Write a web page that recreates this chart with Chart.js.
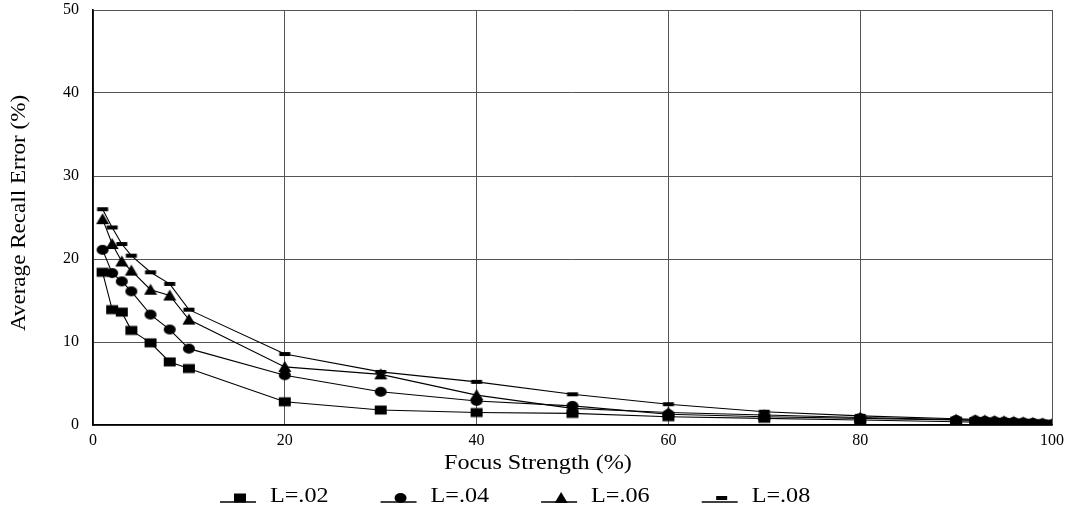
<!DOCTYPE html>
<html>
<head>
<meta charset="utf-8">
<script src="https://cdn.jsdelivr.net/npm/chart.js@4.4.0/dist/chart.umd.min.js"></script>
<style>
  html, body { margin: 0; padding: 0; background: #fff; }
  #wrap { width: 1074px; height: 512px; }
</style>
</head>
<body>
<div id="wrap"><canvas id="recallChart"></canvas></div>
<script>
// ========== DATA ==========
const focusStrength = [1, 2, 3, 4, 6, 8, 10, 20, 30, 40, 50, 60, 70, 80, 90, 92, 93, 94, 95, 96, 97, 98, 99, 100];
const seriesLabels = ["L=.02", "L=.04", "L=.06", "L=.08"];
const errL02 = [18.4, 13.9, 13.6, 11.4, 9.9, 7.6, 6.8, 2.8, 1.8, 1.5, 1.4, 1.0, 0.8, 0.6, 0.4, 0.35, 0.3, 0.28, 0.25, 0.2, 0.18, 0.15, 0.1, 0.05];
const errL04 = [21.1, 18.3, 17.3, 16.1, 13.3, 11.5, 9.2, 6.0, 4.0, 2.9, 2.3, 1.3, 1.0, 0.8, 0.6, 0.55, 0.5, 0.45, 0.4, 0.35, 0.3, 0.25, 0.18, 0.08];
const errL06 = [24.8, 21.8, 19.7, 18.6, 16.3, 15.6, 12.7, 7.0, 6.1, 3.6, 2.0, 1.5, 1.2, 0.9, 0.65, 0.6, 0.55, 0.5, 0.45, 0.4, 0.33, 0.27, 0.2, 0.1];
const errL08 = [26.0, 23.8, 21.8, 20.4, 18.4, 17.0, 13.9, 8.55, 6.4, 5.2, 3.7, 2.5, 1.6, 1.1, 0.75, 0.7, 0.65, 0.6, 0.55, 0.5, 0.42, 0.35, 0.25, 0.12];
const xTitle = "Focus Strength (%)";
const yTitle = "Average Recall Error (%)";

const FONT = "'Liberation Serif', 'Times New Roman', serif";

// ========== MARKERS ==========
function drawShape(g, kind, cx, cy) {
  g.beginPath();
  if (kind === "square") g.rect(cx - 6, cy - 4.5, 12, 9);
  else if (kind === "circle") g.ellipse(cx, cy, 6, 5, 0, 0, Math.PI * 2);
  else if (kind === "triangle") { g.moveTo(cx, cy - 6); g.lineTo(cx + 6.5, cy + 5); g.lineTo(cx - 6.5, cy + 5); g.closePath(); }
  else g.rect(cx - 5.5, cy - 2, 11, 4);
  g.fill();
}

function makePoint(kind) {
  const c = document.createElement("canvas");
  c.width = 14;
  c.height = 14;
  const g = c.getContext("2d");
  g.fillStyle = "#000";
  drawShape(g, kind, 7, 7);
  return c;
}

const shapes = ["square", "circle", "triangle", "dash"];
const pointImgs = shapes.map(makePoint);

function toPoints(values) {
  return focusStrength.map((x, i) => ({ x: x, y: values[i] }));
}

// ========== TEXT + LEGEND (drawn wide like the original) ==========
const STRETCH = 1.15;

function wideText(ctx, text, x, y, size, align) {
  ctx.save();
  ctx.font = size + "px " + FONT;
  ctx.fillStyle = "#000";
  ctx.textBaseline = "alphabetic";
  const w = ctx.measureText(text).width * STRETCH;
  let left = x;
  if (align === "center") left = x - w / 2;
  ctx.translate(left, y);
  ctx.scale(STRETCH, 1);
  ctx.textAlign = "left";
  ctx.fillText(text, 0, 0);
  ctx.restore();
  return w;
}

const textPlugin = {
  id: "textPlugin",
  afterDraw(chart) {
    const ctx = chart.ctx;

    // x axis title
    wideText(ctx, xTitle, 538, 469, 21, "center");

    // y axis title, rotated
    ctx.save();
    ctx.translate(25, 213);
    ctx.rotate(-Math.PI / 2);
    ctx.font = "21px " + FONT;
    ctx.scale(1.1, 1);
    ctx.fillStyle = "#000";
    ctx.textAlign = "center";
    ctx.textBaseline = "alphabetic";
    ctx.fillText(yTitle, 0, 0);
    ctx.restore();

    // legend
    let x = 220;
    const lineY = 502;
    chart.data.datasets.forEach((ds, i) => {
      ctx.save();
      ctx.strokeStyle = "#000";
      ctx.lineWidth = 1.3;
      ctx.beginPath();
      ctx.moveTo(x, lineY);
      ctx.lineTo(x + 36, lineY);
      ctx.stroke();
      ctx.fillStyle = "#000";
      drawShape(ctx, shapes[i], x + 20, lineY - 4);
      ctx.restore();
      const w = wideText(ctx, ds.label, x + 50, lineY, 21, "left");
      x += 50 + w + 52;
    });
  },
};

const base = { borderColor: "#000", backgroundColor: "#000", borderWidth: 1.1, showLine: true, pointBorderWidth: 0 };

// ========== CHART ==========
new Chart(document.getElementById("recallChart"), {
  type: "scatter",
  data: {
    datasets: seriesLabels.map((label, i) => ({
      ...base,
      label: label,
      data: toPoints([errL02, errL04, errL06, errL08][i]),
      pointStyle: pointImgs[i],
    })),
  },
  options: {
    responsive: true,
    maintainAspectRatio: false,
    animation: false,
    events: [],
    layout: { padding: { left: 0, right: 22, top: 10, bottom: 0 } },
    scales: {
      x: {
        type: "linear",
        min: 0,
        max: 100,
        ticks: { stepSize: 20, color: "#000", font: { family: FONT, size: 16 }, padding: 6 },
        grid: { color: "#555", lineWidth: 1, drawTicks: false },
        border: { color: "#000", width: 1.6 },
        afterFit: (s) => { s.height = 87; },
      },
      y: {
        min: 0,
        max: 50,
        ticks: { stepSize: 10, color: "#000", font: { family: FONT, size: 16 }, padding: 14 },
        grid: { color: "#555", lineWidth: 1, drawTicks: false },
        border: { color: "#000", width: 1.6 },
        afterFit: (s) => { s.width = 93; s.paddingTop = 0; s.paddingBottom = 0; },
      },
    },
    plugins: {
      tooltip: { enabled: false },
      legend: { display: false },
    },
  },
  plugins: [textPlugin],
});
</script>
</body>
</html>
